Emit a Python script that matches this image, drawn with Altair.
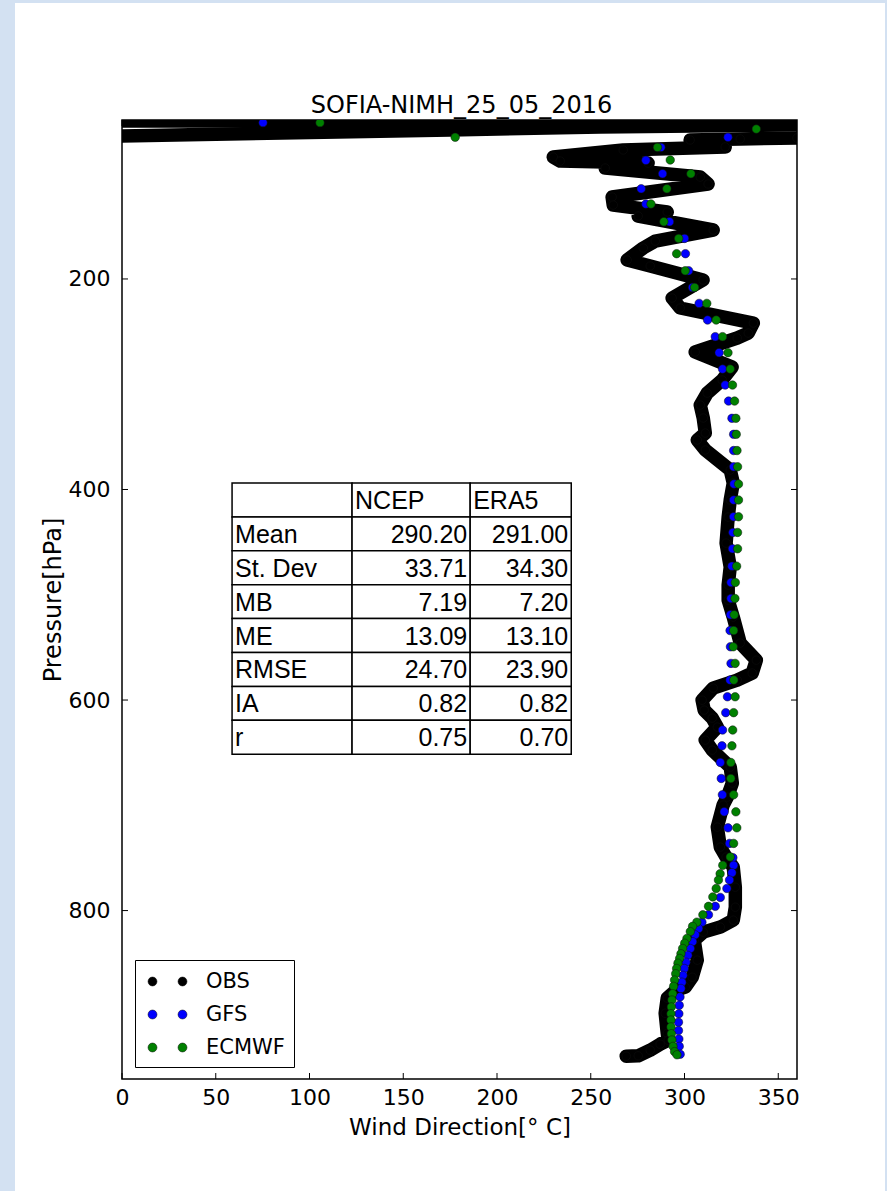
import altair as alt
import pandas as pd

# ---------------- data ----------------
TITLE = "SOFIA-NIMH_25_05_2016"
X_TITLE = "Wind Direction[° C]"
Y_TITLE = "Pressure[hPa]"
SERIES = ["OBS", "GFS", "ECMWF"]
X_TICKS = [0, 50, 100, 150, 200, 250, 300, 350]
Y_TICKS = [200, 400, 600, 800]

# observed sounding: the wrapped stratospheric part near the top
OBS_TOP_ROW_DIR = [0, 360]
OBS_TOP_ROW_P = [50.0, 50.0]
OBS_TOP_BAND_DIR = [0, 175, 255, 360]
OBS_TOP_BAND_P = [64.2, 58.5, 55.7, 53.5]

# observed sounding: main profile (top -> bottom)
OBS_DIR = [360, 329.7, 303.0, 321.7, 267.3, 230.0, 233.7, 280.6, 257.7, 308.4,
           312.6, 261.4, 262.0, 290.8, 275.3, 315.3, 284.4, 278.0, 269.4, 281.7,
           309.9, 293.4, 297.7, 336.7, 334.0, 328.1, 305.7, 325.4, 320.1, 312.1,
           308.4, 310.0, 311.1, 306.8, 311.1, 324.4, 326.0, 324.4, 323.3, 322.2,
           324.4, 323.3, 323.3, 326.0, 329.7, 338.3, 336.1, 328.1, 315.3, 309.4,
           310.5, 314.8, 317.5, 311.1, 314.8, 324.4, 325.5, 322.8, 320.6, 317.5,
           319.1, 322.2, 326.0, 327.1, 327.1, 326.0, 319.1, 310.0, 305.2, 306.8,
           304.1, 300.4, 295.6, 290.8, 289.7, 290.8, 291.3, 287.0, 281.7, 275.3,
           268.9]
OBS_P = [66.1, 67.0, 68.0, 74.6, 77.5, 84.2, 88.0, 89.9, 94.6, 103.2,
         109.8, 122.2, 129.8, 136.4, 140.2, 153.5, 164.0, 170.6, 182.0, 187.7,
         201.0, 218.1, 227.6, 241.9, 251.4, 256.1, 269.4, 283.7, 296.0, 308.4,
         319.8, 332.1, 346.4, 353.0, 362.5, 381.5, 393.9, 410.0, 426.2, 450.9,
         473.7, 490.8, 505.1, 521.2, 545.9, 562.1, 574.4, 581.1, 588.7, 600.1,
         609.6, 617.2, 625.7, 638.1, 647.6, 663.7, 678.9, 692.2, 699.8, 720.7,
         739.7, 749.2, 758.7, 777.8, 796.8, 809.1, 815.7, 820.5, 828.1, 847.1,
         863.3, 872.8, 875.6, 883.2, 897.5, 916.5, 923.1, 926.9, 932.6, 938.0,
         938.3]

GFS_P = [51.5, 65.4, 75.0, 87.3, 100.0, 114.3, 128.8, 145.6, 161.5, 176.0,
         192.2, 208.0, 223.2, 239.0, 254.8, 270.0, 285.6, 300.8, 316.0, 332.4,
         347.6, 363.0, 378.4, 394.8, 410.0, 425.9, 440.8, 456.3, 472.8, 488.3,
         503.5, 519.0, 534.0, 549.4, 565.2, 581.0, 596.9, 612.0, 628.5, 643.5,
         659.3, 674.5, 690.0, 706.2, 721.4, 736.2, 749.7, 757.0, 764.0, 771.0,
         779.0, 787.5, 796.0, 804.0, 811.0, 817.0, 823.0, 829.5, 836.0, 842.5,
         849.0, 855.0, 861.5, 868.0, 874.0, 882.0, 890.0, 898.0, 906.0, 914.0,
         922.0, 929.0, 936.5]
GFS_DIR = [75.2, 323.2, 287.4, 279.4, 288.3, 276.9, 279.4, 292.0, 300.0, 300.5,
           302.2, 304.3, 307.8, 312.3, 316.4, 318.5, 320.3, 321.7, 323.5, 325.3,
           326.2, 326.2, 326.2, 326.4, 326.2, 326.2, 325.8, 325.6, 325.3, 324.8,
           324.8, 324.5, 324.3, 324.5, 324.8, 324.3, 322.9, 322.0, 320.3, 320.0,
           319.1, 319.6, 320.2, 321.2, 323.2, 324.0, 325.8, 326.2, 325.3, 324.0,
           322.6, 319.1, 316.4, 312.8, 309.3, 307.5, 305.7, 304.3, 303.1, 301.8,
           300.8, 299.9, 299.2, 298.6, 298.1, 297.6, 297.2, 297.0, 296.8, 296.8,
           297.0, 297.2, 297.7]

ECMWF_P = [51.5, 57.6, 65.4, 75.0, 87.0, 100.0, 114.3, 128.8, 145.6, 161.5,
           176.0, 192.2, 208.0, 223.2, 239.0, 254.8, 270.0, 285.6, 300.8, 316.0,
           332.4, 347.6, 363.0, 378.4, 394.8, 410.0, 425.9, 440.8, 456.3, 472.8,
           488.3, 503.5, 519.0, 534.0, 549.4, 565.2, 581.0, 596.9, 612.0, 628.5,
           643.5, 659.3, 674.5, 690.0, 706.2, 721.4, 736.2, 749.0, 757.0, 765.0,
           771.0, 779.0, 787.0, 796.0, 804.0, 811.0, 815.0, 820.0, 826.5, 831.0,
           836.0, 841.0, 845.5, 850.0, 855.0, 860.0, 866.0, 872.0, 879.0, 885.0,
           891.5, 898.0, 904.0, 910.5, 917.0, 923.0, 929.0, 934.0, 937.0]
ECMWF_DIR = [105.6, 338.3, 177.7, 285.6, 292.4, 303.4, 290.6, 282.1, 289.0, 296.9,
             295.8, 300.4, 305.4, 311.9, 316.9, 320.3, 323.2, 324.4, 325.6, 326.7,
             327.4, 327.6, 328.0, 328.3, 328.8, 328.8, 328.8, 328.3, 328.3, 327.8,
             327.1, 326.9, 326.5, 326.2, 326.0, 327.0, 326.3, 327.0, 326.2, 325.7,
             325.3, 324.7, 324.7, 326.2, 327.4, 327.9, 326.2, 324.4, 320.4, 319.0,
             318.1, 316.9, 315.1, 312.8, 309.8, 306.6, 304.3, 303.1, 301.3, 300.1,
             299.0, 298.1, 297.4, 296.5, 295.8, 295.3, 294.7, 294.2, 293.7, 293.3,
             293.0, 292.8, 292.8, 292.8, 293.0, 293.3, 293.9, 294.7, 296.0]

TABLE_HEADER = ["", "NCEP", "ERA5"]
TABLE_ROWS = ["Mean", "St. Dev", "MB", "ME", "RMSE", "IA", "r"]
NCEP_VALUES = ["290.20", "33.71", "7.19", "13.09", "24.70", "0.82", "0.75"]
ERA5_VALUES = ["291.00", "34.30", "7.20", "13.10", "23.90", "0.82", "0.70"]

# ---------------- layout / style ----------------
PLOT_W, PLOT_H = 675, 959
PAD = {"left": 122, "top": 120, "right": 90, "bottom": 112}
BG_BLUE = "#d3e1f2"
COLORS = ["#000000", "#0000ff", "#008000"]
FONT = "DejaVu Sans"
TABLE_FONT = "Liberation Sans"
# table placement in axes data units (like a matplotlib table bbox)
TABLE_X_EDGES = [58.7, 122.7, 185.7, 239.6]
TABLE_P_TOP = 393.9
TABLE_ROW_H = 32.19

TWO_DOTS = ("M -1.625,0 A 0.375,0.375 0 1,0 -0.875,0 A 0.375,0.375 0 1,0 -1.625,0 Z "
            "M 0.875,0 A 0.375,0.375 0 1,0 1.625,0 A 0.375,0.375 0 1,0 0.875,0 Z")

XSCALE = alt.Scale(domain=[0, 360], nice=False, zero=False)
YSCALE = alt.Scale(domain=[49, 960], nice=False, zero=False, reverse=True)

XAXIS = alt.Axis(values=X_TICKS, format="d", labelFont=FONT, labelFontSize=22,
                 labelColor="black", labelPadding=8, labelFlush=False,
                 labelOverlap=False, titleFont=FONT, titleFontSize=23,
                 titleFontWeight="normal", titleColor="black", titlePadding=8,
                 ticks=False, domain=False, grid=False)
YAXIS = alt.Axis(values=Y_TICKS, format="d", labelFont=FONT, labelFontSize=22,
                 labelColor="black", labelPadding=12, labelOverlap=False,
                 titleFont=FONT, titleFontSize=24, titleFontWeight="normal",
                 titleColor="black", titlePadding=3, ticks=False, domain=False,
                 grid=False)


def X(field):
    return alt.X(f"{field}:Q", scale=XSCALE, axis=XAXIS, title=X_TITLE)


def Y(field):
    return alt.Y(f"{field}:Q", scale=YSCALE, axis=YAXIS, title=Y_TITLE)


# ---------------- frames ----------------
line_rows = []
for seg, dirs, ps in [("top_row", OBS_TOP_ROW_DIR, OBS_TOP_ROW_P),
                      ("top_band", OBS_TOP_BAND_DIR, OBS_TOP_BAND_P),
                      ("profile", OBS_DIR, OBS_P)]:
    for i, (d, p) in enumerate(zip(dirs, ps)):
        line_rows.append({"seg": seg, "i": i, "dir": d, "p": p})
line_df = pd.DataFrame(line_rows)

pt_rows = []
for name, dirs, ps in [("OBS", OBS_DIR, OBS_P), ("GFS", GFS_DIR, GFS_P),
                       ("ECMWF", ECMWF_DIR, ECMWF_P)]:
    for d, p in zip(dirs, ps):
        pt_rows.append({"series": name, "dir": d, "p": p})
pt_df = pd.DataFrame(pt_rows)

cells, ltext, rtext = [], [], []
table_rows = [TABLE_HEADER] + [[r, a, b] for r, a, b in zip(TABLE_ROWS, NCEP_VALUES, ERA5_VALUES)]
for r, row in enumerate(table_rows):
    y0 = TABLE_P_TOP + r * TABLE_ROW_H
    y1 = y0 + TABLE_ROW_H
    for c, txt in enumerate(row):
        cells.append({"x": TABLE_X_EDGES[c], "x2": TABLE_X_EDGES[c + 1], "y": y0, "y2": y1})
        if r == 0 or c == 0:
            ltext.append({"tx": TABLE_X_EDGES[c], "ty": (y0 + y1) / 2, "t": txt})
        else:
            rtext.append({"tx": TABLE_X_EDGES[c + 1], "ty": (y0 + y1) / 2, "t": txt})

# ---------------- layers ----------------
one = pd.DataFrame({"k": [0]})
strips = [
    alt.Chart(one).mark_rect(color=BG_BLUE).encode(
        x=alt.value(-122), x2=alt.value(-107), y=alt.value(-120), y2=alt.value(PLOT_H + 112)),
    alt.Chart(one).mark_rect(color=BG_BLUE).encode(
        x=alt.value(-122), x2=alt.value(PLOT_W + 90), y=alt.value(-120), y2=alt.value(-117)),
    alt.Chart(one).mark_rect(color=BG_BLUE).encode(
        x=alt.value(PLOT_W + 88), x2=alt.value(PLOT_W + 90), y=alt.value(-120), y2=alt.value(PLOT_H + 112)),
]

title_mark = alt.Chart(pd.DataFrame({"t": [TITLE]})).mark_text(
    font=FONT, fontSize=24, color="black", align="center", baseline="alphabetic"
).encode(x=alt.value(PLOT_W / 2 + 2), y=alt.value(-7), text="t:N")

obs_line = alt.Chart(line_df).mark_line(
    color="black", strokeWidth=13.5, strokeCap="round", strokeJoin="round", clip=True
).encode(x=X("dir"), y=Y("p"), detail="seg:N", order="i:Q")

legend = alt.Legend(title=None, orient="none", legendX=13, legendY=840,
                    padding=9, strokeColor="black", fillColor="white",
                    symbolType=TWO_DOTS, symbolSize=576, symbolOffset=11,
                    symbolStrokeColor="#111111", symbolStrokeWidth=0.5,
                    labelFont=FONT, labelFontSize=21, labelColor="black",
                    labelOffset=26, rowPadding=10, cornerRadius=0)

points = alt.Chart(pt_df).mark_circle(
    size=72, opacity=1, stroke="#111111", strokeWidth=0.5, clip=True
).encode(
    x=X("dir"), y=Y("p"),
    color=alt.Color("series:N", scale=alt.Scale(domain=SERIES, range=COLORS), legend=legend),
)

table_cells = alt.Chart(pd.DataFrame(cells)).mark_rect(
    fill="white", stroke="black", strokeWidth=1.5
).encode(x=X("x"), x2=alt.X2("x2"), y=Y("y"), y2=alt.Y2("y2"))

table_ltext = alt.Chart(pd.DataFrame(ltext)).mark_text(
    align="left", baseline="middle", dx=3, dy=1, font=TABLE_FONT, fontSize=25, color="black"
).encode(x=X("tx"), y=Y("ty"), text="t:N")

table_rtext = alt.Chart(pd.DataFrame(rtext)).mark_text(
    align="right", baseline="middle", dx=-3, dy=1, font=TABLE_FONT, fontSize=25, color="black"
).encode(x=X("tx"), y=Y("ty"), text="t:N")

xt = pd.DataFrame({"v": X_TICKS})
yt = pd.DataFrame({"v": Y_TICKS})
ticks = [
    alt.Chart(xt).mark_rule(color="black").encode(x=X("v"), y=alt.value(PLOT_H - 6), y2=alt.value(PLOT_H)),
    alt.Chart(xt).mark_rule(color="black").encode(x=X("v"), y=alt.value(0), y2=alt.value(6)),
    alt.Chart(yt).mark_rule(color="black").encode(y=Y("v"), x=alt.value(0), x2=alt.value(6)),
    alt.Chart(yt).mark_rule(color="black").encode(y=Y("v"), x=alt.value(PLOT_W - 6), x2=alt.value(PLOT_W)),
]

chart = alt.layer(
    *strips, title_mark, obs_line, points, table_cells, table_ltext, table_rtext, *ticks
).properties(
    width=PLOT_W, height=PLOT_H, padding=PAD, background="white",
    autosize=alt.AutoSizeParams(type="none"),
).configure_view(stroke="black", strokeWidth=1.5, fill="white")

chart.save("out.html", embed_options={"renderer": "svg", "actions": False})
